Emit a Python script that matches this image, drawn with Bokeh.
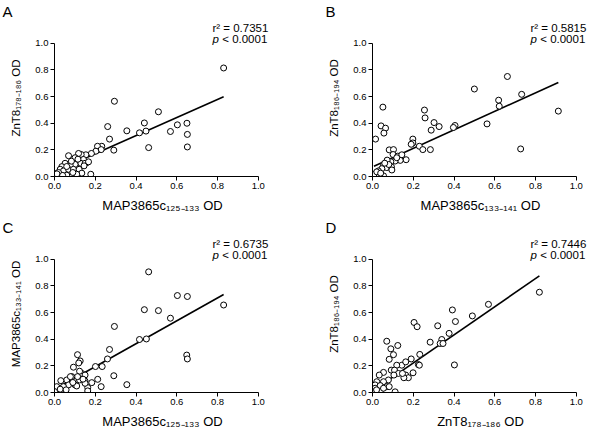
from bokeh.plotting import figure
from bokeh.layouts import row, column
from bokeh.models import Range1d, FixedTicker, PrintfTickFormatter, Label
from bokeh.embed import file_html
from bokeh.resources import INLINE

FONT = "Liberation Sans"

# ---- data ----
a_x = [0.83, 0.294, 0.51, 0.261, 0.441, 0.355, 0.417, 0.449, 0.569, 0.603, 0.65, 0.652, 0.652,
       0.462, 0.27, 0.291, 0.232, 0.211, 0.229, 0.203, 0.181, 0.154, 0.131, 0.118, 0.069, 0.101,
       0.158, 0.142, 0.129, 0.101, 0.077, 0.052, 0.036, 0.028, 0.044, 0.069, 0.093, 0.121, 0.134,
       0.109, 0.178, 0.06, 0.033, 0.003, 0.02, 0.15, 0.167, 0.083, 0.115, 0.06, 0.145, 0.012,
       0.04, 0.09]
a_y = [0.815, 0.565, 0.486, 0.375, 0.402, 0.343, 0.328, 0.341, 0.338, 0.388, 0.40, 0.316, 0.222,
       0.217, 0.281, 0.198, 0.227, 0.227, 0.202, 0.19, 0.173, 0.163, 0.165, 0.173, 0.156, 0.141,
       0.104, 0.128, 0.099, 0.091, 0.084, 0.099, 0.074, 0.054, 0.042, 0.054, 0.054, 0.054, 0.025,
       0.017, 0.017, 0.01, 0.01, 0.017, 0.03, 0.099, 0.11, 0.115, 0.13, 0.075, 0.08, 0.02,
       0.008, 0.03]

b_x = [0.662, 0.5, 0.732, 0.619, 0.622, 0.912, 0.051, 0.255, 0.258, 0.302, 0.327, 0.288, 0.405,
       0.397, 0.562, 0.042, 0.064, 0.056, 0.015, 0.198, 0.198, 0.19, 0.23, 0.247, 0.284, 0.727,
       0.082, 0.103, 0.101, 0.124, 0.144, 0.165, 0.136, 0.111, 0.09, 0.072, 0.054, 0.07, 0.093,
       0.095, 0.046, 0.029, 0.007, 0.034, 0.054, 0.033, 0.021, 0.119, 0.08, 0.06, 0.04]
b_y = [0.751, 0.657, 0.617, 0.573, 0.528, 0.491, 0.521, 0.499, 0.44, 0.405, 0.375, 0.348, 0.383,
       0.368, 0.395, 0.38, 0.363, 0.326, 0.281, 0.281, 0.252, 0.242, 0.227, 0.202, 0.202, 0.207,
       0.2, 0.202, 0.165, 0.153, 0.163, 0.126, 0.121, 0.116, 0.111, 0.123, 0.084, 0.067, 0.072,
       0.049, 0.059, 0.042, 0.017, 0.017, 0.005, 0.0, 0.035, 0.141, 0.09, 0.1, 0.025]

c_x = [0.462, 0.603, 0.652, 0.83, 0.441, 0.51, 0.569, 0.294, 0.417, 0.451, 0.27, 0.649, 0.652,
       0.113, 0.126, 0.119, 0.093, 0.201, 0.234, 0.26, 0.291, 0.355, 0.212, 0.229, 0.163, 0.163,
       0.183, 0.15, 0.123, 0.134, 0.123, 0.15, 0.113, 0.085, 0.06, 0.031, 0.069, 0.101, 0.109,
       0.044, 0.011, 0.028, 0.057, 0.0, 0.15, 0.078, 0.14, 0.09]
c_y = [0.906, 0.728, 0.721, 0.657, 0.622, 0.615, 0.558, 0.496, 0.398, 0.402, 0.323, 0.281, 0.252,
       0.284, 0.237, 0.222, 0.19, 0.195, 0.195, 0.252, 0.126, 0.059, 0.099, 0.044, 0.037, 0.012,
       0.074, 0.086, 0.094, 0.143, 0.16, 0.131, 0.119, 0.119, 0.094, 0.089, 0.057, 0.057, 0.049,
       0.044, 0.044, 0.025, 0.02, 0.007, 0.069, 0.119, 0.1, 0.075]

d_x = [0.819, 0.569, 0.49, 0.392, 0.407, 0.204, 0.219, 0.32, 0.376, 0.283, 0.34, 0.332, 0.346,
       0.402, 0.07, 0.124, 0.09, 0.103, 0.082, 0.232, 0.19, 0.225, 0.23, 0.199, 0.144, 0.119,
       0.163, 0.092, 0.108, 0.054, 0.033, 0.127, 0.105, 0.163, 0.176, 0.154, 0.078, 0.054, 0.021,
       0.013, 0.038, 0.07, 0.082, 0.013, 0.038, 0.111, 0.0, 0.054, 0.02, 0.147]
d_y = [0.753, 0.662, 0.575, 0.62, 0.533, 0.526, 0.494, 0.501, 0.444, 0.378, 0.398, 0.368, 0.368,
       0.207, 0.385, 0.353, 0.328, 0.284, 0.249, 0.286, 0.252, 0.21, 0.205, 0.148, 0.205, 0.205,
       0.23, 0.168, 0.168, 0.151, 0.131, 0.143, 0.131, 0.131, 0.111, 0.111, 0.094, 0.081, 0.081,
       0.057, 0.052, 0.044, 0.044, 0.032, 0.007, 0.005, 0.007, 0.032, 0.02, 0.143]

# linear fits (intercept, slope) and statistics as printed
fit_a = (0.035, 0.68)
fit_b = (0.072, 0.695)
fit_c = (0.022, 0.86)
fit_d = (0.010, 1.057)
r2_text = ["0.7351", "0.5815", "0.6735", "0.7446"]
p_text = "0.0001"
panel_letters = ["A", "B", "C", "D"]
x_labels = ["MAP3865c\u2081\u2082\u2085\u208b\u2081\u2083\u2083 OD", "MAP3865c\u2081\u2083\u2083\u208b\u2081\u2084\u2081 OD",
            "MAP3865c\u2081\u2082\u2085\u208b\u2081\u2083\u2083 OD", "ZnT8\u2081\u2087\u2088\u208b\u2081\u2088\u2086 OD"]
y_labels = ["ZnT8\u2081\u2087\u2088\u208b\u2081\u2088\u2086 OD", "ZnT8\u2081\u2088\u2086\u208b\u2081\u2089\u2084 OD",
            "MAP3865c\u2081\u2083\u2083\u208b\u2081\u2084\u2081 OD", "ZnT8\u2081\u2088\u2086\u208b\u2081\u2089\u2084 OD"]
ticks = [0.0, 0.2, 0.4, 0.6, 0.8, 1.0]


def make_panel(xs, ys, fit, r2, letter, xlab, ylab, w, h, left, right, top, bottom):
    p = figure(width=w, height=h, x_range=Range1d(0, 1.06), y_range=Range1d(0, 1.179),
               output_backend="svg", toolbar_location=None, title=letter,
               min_border_left=left, min_border_right=right,
               min_border_top=top, min_border_bottom=bottom)
    p.title.text_font = FONT
    p.title.text_font_size = "15px"
    p.title.text_font_style = "normal"
    p.title.text_color = "black"
    p.title.align = "left"
    p.title.offset = -(left - 2)
    p.title.standoff = 0
    p.xgrid.visible = False
    p.ygrid.visible = False
    p.outline_line_color = None
    p.background_fill_color = "white"
    p.xaxis.bounds = (0, 1)
    p.yaxis.bounds = (0, 1)
    for ax in (p.xaxis[0], p.yaxis[0]):
        ax.ticker = FixedTicker(ticks=ticks)
        ax.formatter = PrintfTickFormatter(format="%.1f")
        ax.minor_tick_line_color = None
        ax.major_tick_in = 0
        ax.major_tick_out = 4
        ax.axis_line_color = "black"
        ax.major_tick_line_color = "black"
        ax.major_label_text_font = FONT
        ax.major_label_text_font_size = "9.5px"
        ax.major_label_text_color = "black"
        ax.major_label_standoff = 2
        ax.axis_label_text_font = FONT
        ax.axis_label_text_font_style = "normal"
        ax.axis_label_text_color = "black"
    p.xaxis.axis_label_text_font_size = "13px"
    p.yaxis.axis_label_text_font_size = "11.5px"
    p.xaxis.axis_label_standoff = 6
    p.yaxis.axis_label_standoff = 10
    p.xaxis.axis_label = xlab
    p.yaxis.axis_label = ylab

    x0, x1 = min(xs), max(xs)
    p.line([x0, x1], [fit[0] + fit[1] * x0, fit[0] + fit[1] * x1], line_color="black", line_width=1.6)
    p.scatter(xs, ys, marker="circle", size=6, fill_color="white", line_color="black", line_width=1)

    p.add_layout(Label(x=0.775, y=1.117, text="r\u00b2 = " + r2, text_font=FONT, text_font_size="11.5px",
                       text_color="black", text_baseline="alphabetic"))
    p.add_layout(Label(x=0.775, y=1.030, text="p", text_font=FONT, text_font_size="11.5px",
                       text_font_style="italic", text_color="black", text_baseline="alphabetic"))
    p.add_layout(Label(x=0.775, y=1.030, x_offset=9.8, text="< " + p_text, text_font=FONT,
                       text_font_size="11.5px", text_color="black", text_baseline="alphabetic"))
    return p


pa = make_panel(a_x, a_y, fit_a, r2_text[0], panel_letters[0], x_labels[0], y_labels[0], 323, 216, 54, 53, 17, 40)
pb = make_panel(b_x, b_y, fit_b, r2_text[1], panel_letters[1], x_labels[1], y_labels[1], 267, 216, 49, 2, 17, 40)
pc = make_panel(c_x, c_y, fit_c, r2_text[2], panel_letters[2], x_labels[2], y_labels[2], 323, 215, 54, 53, 17, 39)
pd_ = make_panel(d_x, d_y, fit_d, r2_text[3], panel_letters[3], x_labels[3], y_labels[3], 267, 215, 49, 2, 17, 39)

layout = column(row(pa, pb), row(pc, pd_))
open("out.html", "w").write(file_html(layout, INLINE))
